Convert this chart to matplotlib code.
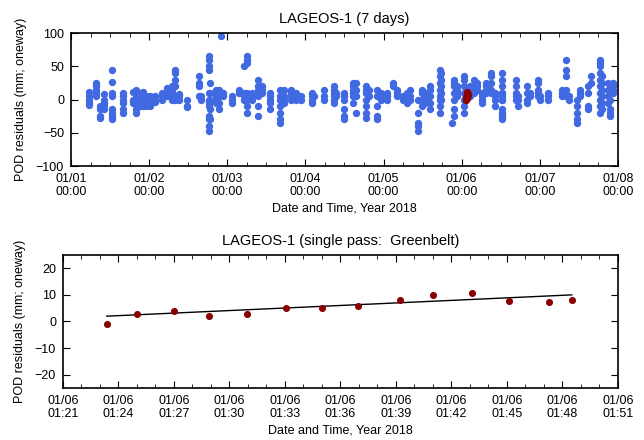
# -------------------------------------------------------------------
# plot.py: LAGEOS-1 POD residuals, 7-day arc and one Greenbelt pass

import matplotlib
matplotlib.use('Agg')
import matplotlib.pyplot as plt
import matplotlib.dates as mdates
import numpy as np
from datetime import datetime, timedelta

plt.rcParams['font.family'] = ['Liberation Sans', 'DejaVu Sans']

# -------------------------------------------------------------------
# 7-day arc: one entry per pass, (day offset from 2018-01-01, residuals mm)
pass_days = [
    0.235, 0.32, 0.37, 0.42, 0.53, 0.66, 0.79, 0.83, 0.88, 0.92, 0.96,
    1.01, 1.08, 1.17, 1.23, 1.29, 1.33, 1.38, 1.48, 1.64, 1.67, 1.76,
    1.78, 1.85, 1.89, 1.92, 1.95, 2.06, 2.15, 2.21, 2.25, 2.32, 2.39,
    2.44, 2.55, 2.68, 2.72, 2.81, 2.88, 2.95, 3.08, 3.11, 3.24, 3.36,
    3.39, 3.50, 3.61, 3.65, 3.78, 3.82, 3.92, 3.97, 4.05, 4.12, 4.17,
    4.25, 4.30, 4.34, 4.44, 4.49, 4.53, 4.60, 4.72, 4.74, 4.87, 4.90,
    4.94, 5.03, 5.11, 5.16, 5.19, 5.26, 5.31, 5.37, 5.42, 5.51, 5.52,
    5.70, 5.72, 5.83, 5.88, 5.98, 6.00, 6.10, 6.28, 6.33, 6.37, 6.47,
    6.51, 6.62, 6.65, 6.77, 6.79, 6.87, 6.90, 6.94,
]
pass_resid = [
    [12, 5, 0, -5, -8], [25, 20, 15, 10, 5], [-15, -28, -25, -10],
    [8, 0, -5, -10, -15], [45, 27, 10, 5, -15, -20, -25, -30],
    [10, 5, 0, -5, -15, -20], [12, 0, -5], [15, 5, -5, -15, -20],
    [10, 0, -10, -5], [12, 5, -5, -10], [5, 0, -10, -5],
    [5, 0, -5, -10], [5, 0, -3], [10, 5, 0], [18, 10, 5],
    [20, 15, 10, 0], [45, 40, 30, 20, 5, 0], [8, 5, 0], [0, -10, -12],
    [35, 25, 20, 5], [5, 0], [65, 60, 50, 45, 10, 0, -5, -10, -25, -30, -40, -48],
    [25, 10, 0, -15, -30], [15, 10, 5, 0, -5], [15, 5, -5, -15], [95],
    [10, 5], [5, 0, -5], [15, 10], [50, 10, 5, 0],
    [65, 60, 55, 10, 0, -10, -20], [10, 5, 0], [30, 20, 15, 5, -10, -25],
    [20, 15, 10], [10, 5, 0, -5, -15], [15, 5, 0, -10, -20, -30, -35],
    [15, 5, 0, -5], [15, 10, 5, 0], [10, 5, 0], [5, 0],
    [10, 5, 0, -5], [5], [15, 5, 0], [20, 15, 10, 5, 0, -5],
    [10, 5], [10, 5, 0, -15, -25, -30], [25, 20, 15, 10, 5, -5], [25, 15, 5, -20],
    [20, 15, 10, 0, -10, -20, -28], [15, 5], [15, 5, -10, -25, -30], [10, 0, 5],
    [10, 5, 0], [25, 20], [15, 10, 5], [5, 0],
    [10, 5, 0, -5], [15, 5, 0], [0, -20, -35, -40, -48], [15, 10, 0, -10],
    [10, 5, 0, -5], [20, 15, 5, -5, -15], [45, 35, 25, 15, 5, 0, -10, -20],
    [40, 30, 20, 10, 0], [-35], [30, 25, 20, 10, 0, -15, -25],
    [20, 15, 10, 5], [35, 30, 20, 10, 0, -10, -20], [20, 15, 10, 5],
    [30, 20, 10], [25, 20, 15], [10, 5, 0, -5], [25, 20, 15, 10],
    [40, 35, 25, 15, 10], [10, 5, 0, -10], [40, 30, 20, 10, 5, 0, -15, -25, -30],
    [10, 0, -25, -20], [30, 20, 10, 5, 0], [5, 0, -10], [20, 10, 0, -5],
    [10, 5], [30, 25, 15, 10, 5], [5, 0], [10, 5, 0], [15, 10, 5],
    [60, 45, 35, 15, 5], [5, 0], [0, -10, -20, -30, -35], [15, 10, 5],
    [20, 10, -10, -15], [35, 25], [60, 55, 50, 40, 30, 20, 10, 0, -10, -20],
    [35, 25, 15, 5, -5, -15], [25, 15, 5, -5], [20, 10, 0, -15, -20, -25],
    [25, 20, 15, 10],
]

# single pass at Greenbelt, 2018-01-06 (minutes after 01:00, residuals mm)
gb_minutes = [23.37, 25.0, 27.0, 28.9, 30.96, 33.04, 35.0, 36.93,
              39.2, 41.0, 43.1, 45.1, 47.25, 48.5]
gb_resid = [-1.1, 2.9, 3.9, 1.9, 2.75, 5.0, 5.0, 5.9,
            8.25, 9.9, 10.75, 7.75, 7.25, 8.25]
gb_fit = [2.0, 10.0]   # fitted trend at first / last normal point

BLUE = '#4169e1'
RED = '#8b0000'

# -------------------------------------------------------------------
def style_axes(ax):
    '''
    gnuplot-like frame: ticks inward on all four sides
    '''
    for s in ax.spines.values():
        s.set_linewidth(1.2)
    ax.tick_params(which='both', direction='in', top=True, right=True,
                   labelsize=9, pad=5)
    ax.tick_params(which='major', length=5)
    ax.tick_params(which='minor', length=3)
    for lab in ax.get_xticklabels():
        lab.set_linespacing(1.15)
    ax.set_xlabel('Date and Time, Year 2018', fontsize=9, labelpad=3)
    ax.set_ylabel('POD residuals (mm; oneway)', fontsize=9, labelpad=6)


fig = plt.figure(figsize=(6.44, 4.40), dpi=100)

# top panel: 7 days
t0 = datetime(2018, 1, 1)
ax1 = fig.add_axes([0.1102, 0.6227, 0.8494, 0.3023])
xs, ys = [], []
for d, vals in zip(pass_days, pass_resid):
    for v in vals:
        xs.append(t0 + timedelta(days=d))
        ys.append(v)
ax1.scatter(xs, ys, s=28, color=BLUE, linewidths=0, zorder=2)

tp = datetime(2018, 1, 6, 1, 0)
gb_times = [tp + timedelta(minutes=m) for m in gb_minutes]
ax1.scatter(gb_times, gb_resid, s=28, color=RED, linewidths=0, zorder=3)

ax1.set_xlim(t0, t0 + timedelta(days=7))
ax1.set_ylim(-100, 100)
ax1.set_yticks([-100, -50, 0, 50, 100])
ax1.xaxis.set_major_locator(mdates.DayLocator())
ax1.xaxis.set_minor_locator(mdates.HourLocator(byhour=[6, 12, 18]))
ax1.xaxis.set_major_formatter(mdates.DateFormatter('%m/%d\n%H:%M'))
ax1.set_title('LAGEOS-1 (7 days)', fontsize=10.5, pad=7)
style_axes(ax1)

# bottom panel: single pass
ax2 = fig.add_axes([0.0978, 0.1182, 0.8618, 0.3023])
ax2.plot([gb_times[0], gb_times[-1]], gb_fit, color='black', lw=1.0, zorder=2)
ax2.scatter(gb_times, gb_resid, s=26, color=RED, linewidths=0, zorder=3)
ax2.set_xlim(tp + timedelta(minutes=21), tp + timedelta(minutes=51))
ax2.set_ylim(-25, 25)
ax2.set_yticks([-20, -10, 0, 10, 20])
ax2.xaxis.set_major_locator(mdates.MinuteLocator(byminute=range(0, 60, 3)))
ax2.xaxis.set_minor_locator(mdates.MinuteLocator())
ax2.xaxis.set_major_formatter(mdates.DateFormatter('%m/%d\n%H:%M'))
ax2.set_title('LAGEOS-1 (single pass:  Greenbelt)', fontsize=10.5, pad=7)
style_axes(ax2)

fig.savefig('out.png', dpi=100)
